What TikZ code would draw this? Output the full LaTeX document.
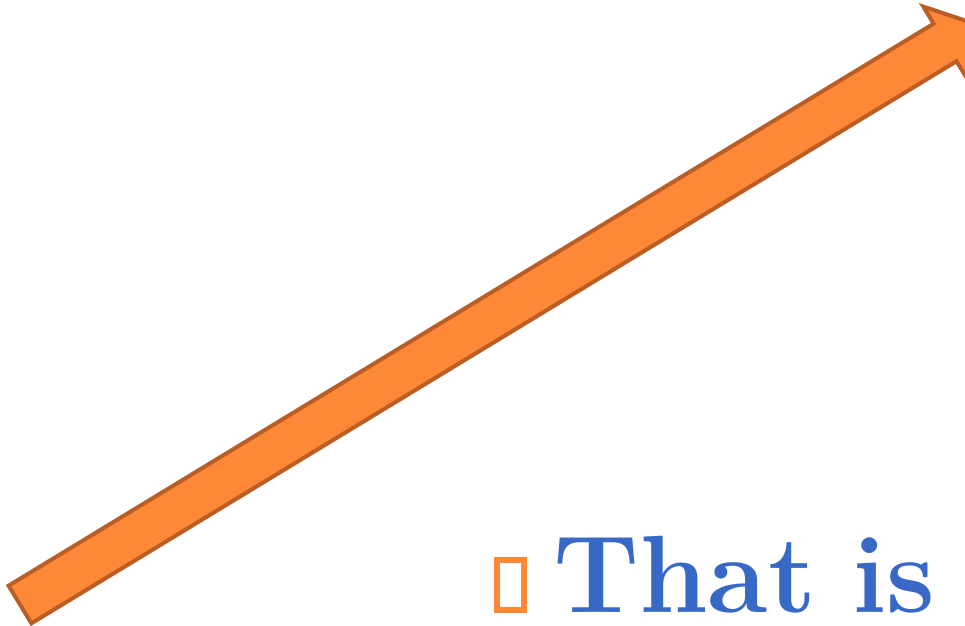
\documentclass[tikz,border=0pt]{standalone}
\usepackage{xcolor}
\usepackage{tikz}
\usetikzlibrary{calc, positioning}
\definecolor{arroworange}{RGB}{253, 137, 56}
\definecolor{arrowedge}{RGB}{186, 94, 38}
\definecolor{titleblue}{RGB}{56, 105, 198}

\begin{document}
\begin{tikzpicture}[
    x=1pt, y=-1pt,
    bigarrow/.style={fill=arroworange, draw=arrowedge, line width=4pt, line join=miter},
    bulletbox/.style={rectangle, draw=arroworange, line width=6pt, minimum width=27pt, minimum height=50pt, inner sep=0pt},
    title/.style={text=titleblue, font=\fontsize{110}{120}\selectfont\bfseries, inner sep=0pt, anchor=base west}
]
\useasboundingbox (0,0) rectangle (965,625);
\clip (0,0) rectangle (965,625);
% arrow from lower left to upper right
\coordinate (tail) at (20,604.5);
\coordinate (tip) at (975.4,24);
\coordinate (headbase) at ($(tip)!35.5pt!(tail)$);
\draw[bigarrow] ($(tail)!22pt!90:(tip)$)
    -- ($(headbase)!22pt!-90:(tail)$)
    -- ($(headbase)!42pt!-90:(tail)$)
    -- (tip)
    -- ($(headbase)!42pt!90:(tail)$)
    -- ($(headbase)!22pt!90:(tail)$)
    -- ($(tail)!22pt!-90:(tip)$)
    -- cycle;
\node[title] (that) at (553,612) {That\hspace{36pt}is};
\node[bulletbox] (bullet) at (510.5,585) {};
\end{tikzpicture}
\end{document}
